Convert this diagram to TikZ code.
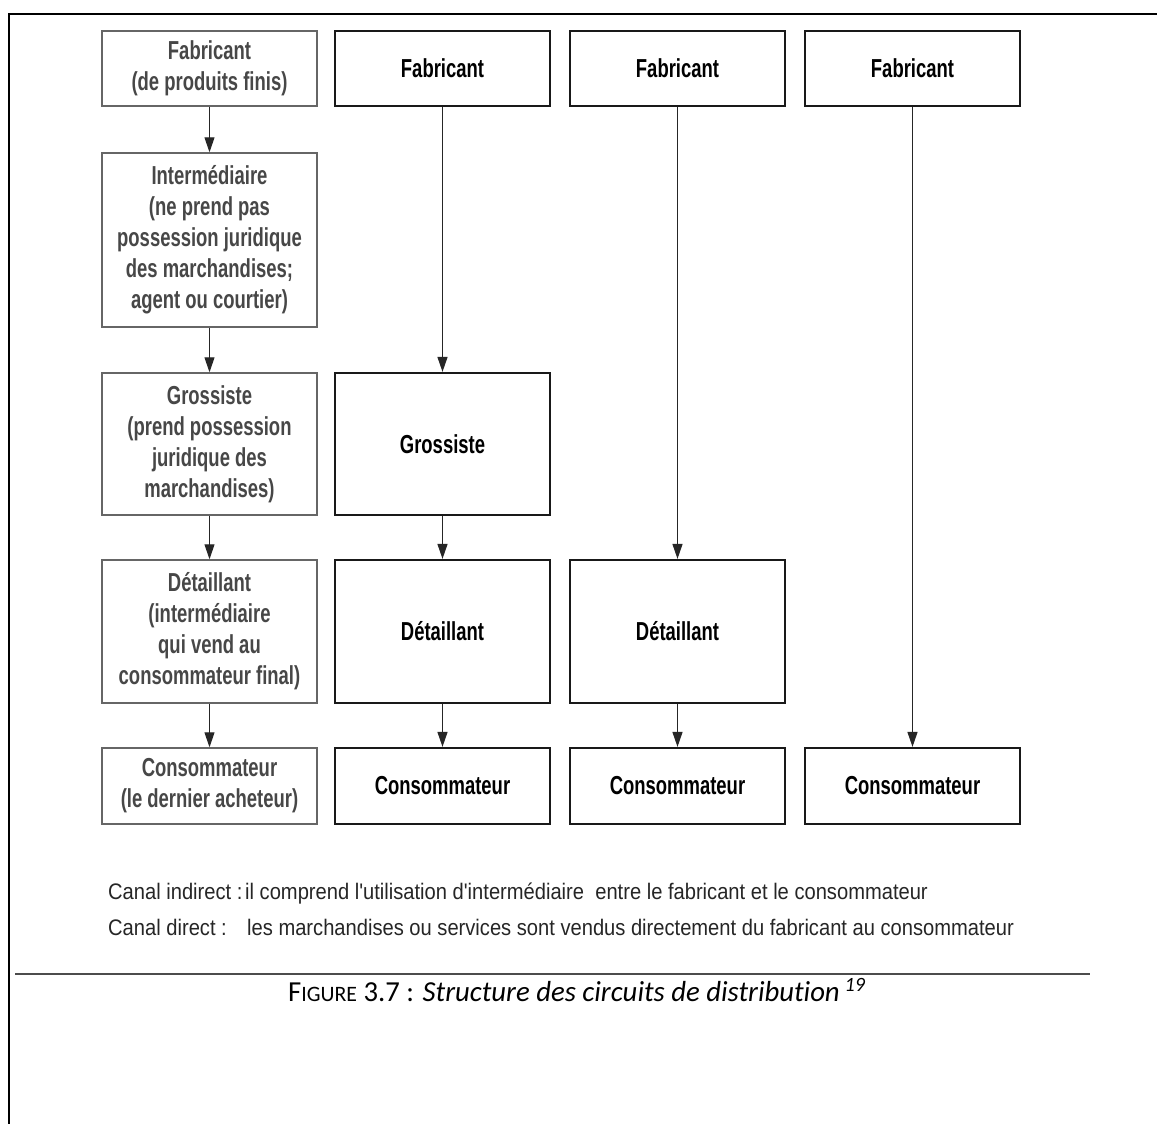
\documentclass[tikz,border=0pt]{standalone}
\usepackage{fontspec}
\setmainfont{Liberation Sans}[FakeStretch=0.71]
\newfontfamily\notefont{Liberation Sans}[FakeStretch=0.895]
\newfontfamily\capfont{Carlito}[FakeStretch=0.99, RawFeature=-liga]
\usetikzlibrary{arrows.meta}

\tikzset{
  leftbox/.style={draw=black!60, line width=1.5pt, minimum width=215pt,
    align=center, inner sep=0pt, text=black!72,
    font=\bfseries\fontsize{26}{31}\selectfont},
  chanbox/.style={draw=black!90, line width=2.2pt, minimum width=215pt,
    align=center, inner sep=0pt, text=black,
    font=\bfseries\fontsize{26}{31}\selectfont},
  flow/.style={draw=black!85, line width=1.2pt,
    -{Triangle[length=15pt,width=10pt]}},
  note/.style={anchor=base west, inner sep=0pt,
    font=\notefont\fontsize{22.5}{26}\selectfont, text=black!85},
  rowA/.style={minimum height=75pt},
  rowB/.style={minimum height=174pt},
  rowC/.style={minimum height=142pt},
  rowD/.style={minimum height=143pt},
  rowE/.style={minimum height=76pt},
}

\begin{document}
\begin{tikzpicture}[x=1pt, y=-1pt]
  % page frame
  \useasboundingbox (0,0) rectangle (1157,1124);
  \fill[white] (0,0) rectangle (1157,1124);
  \draw[line width=2pt, black] (9,1124) -- (9,14) -- (1157,14);

  % left column: the full indirect channel, with descriptions
  \node[leftbox, rowA] (f1) at (209.5,68.5) {Fabricant\\(de produits finis)};
  \node[leftbox, rowB] (i1) at (209.5,240) {Intermédiaire\\(ne prend pas\\possession juridique\\des marchandises;\\agent ou courtier)};
  \node[leftbox, rowC] (g1) at (209.5,444) {Grossiste\\(prend possession\\juridique des\\marchandises)};
  \node[leftbox, rowD] (d1) at (209.5,631.5) {Détaillant\\(intermédiaire\\qui vend au\\consommateur final)};
  \node[leftbox, rowE] (c1) at (209.5,786) {Consommateur\\(le dernier acheteur)};

  % second column: via wholesaler and retailer
  \node[chanbox, rowA] (f2) at (442.5,68.5) {Fabricant};
  \node[chanbox, rowC] (g2) at (442.5,444) {Grossiste};
  \node[chanbox, rowD] (d2) at (442.5,631.5) {Détaillant};
  \node[chanbox, rowE] (c2) at (442.5,786) {Consommateur};

  % third column: via retailer only
  \node[chanbox, rowA] (f3) at (677.5,68.5) {Fabricant};
  \node[chanbox, rowD] (d3) at (677.5,631.5) {Détaillant};
  \node[chanbox, rowE] (c3) at (677.5,786) {Consommateur};

  % fourth column: direct channel
  \node[chanbox, rowA] (f4) at (912.5,68.5) {Fabricant};
  \node[chanbox, rowE] (c4) at (912.5,786) {Consommateur};

  % flows
  \draw[flow] (f1) -- (i1);
  \draw[flow] (i1) -- (g1);
  \draw[flow] (g1) -- (d1);
  \draw[flow] (d1) -- (c1);
  \draw[flow] (f2) -- (g2);
  \draw[flow] (g2) -- (d2);
  \draw[flow] (d2) -- (c2);
  \draw[flow] (f3) -- (d3);
  \draw[flow] (d3) -- (c3);
  \draw[flow] (f4) -- (c4);

  % definitions
  \node[note] (n1) at (108,899) {Canal indirect :};
  \node[note] (n1t) at (245,899) {il comprend l'utilisation d'intermédiaire\ \ entre le fabricant et le consommateur};
  \node[note] (n2) at (108,935) {Canal direct :};
  \node[note] (n2t) at (247,935) {les marchandises ou services sont vendus directement du fabricant au consommateur};

  % caption
  \draw[line width=2.5pt, black!70] (15,974) -- (1090,974);
  \node[anchor=base west, inner sep=0pt, font=\capfont\fontsize{29}{32}\selectfont, text=black] (cap) at (288,1001)
    {F{\fontsize{22}{24}\selectfont IGURE} 3.7 : \itshape Structure des circuits de distribution\,\textsuperscript{19}};
\end{tikzpicture}
\end{document}
